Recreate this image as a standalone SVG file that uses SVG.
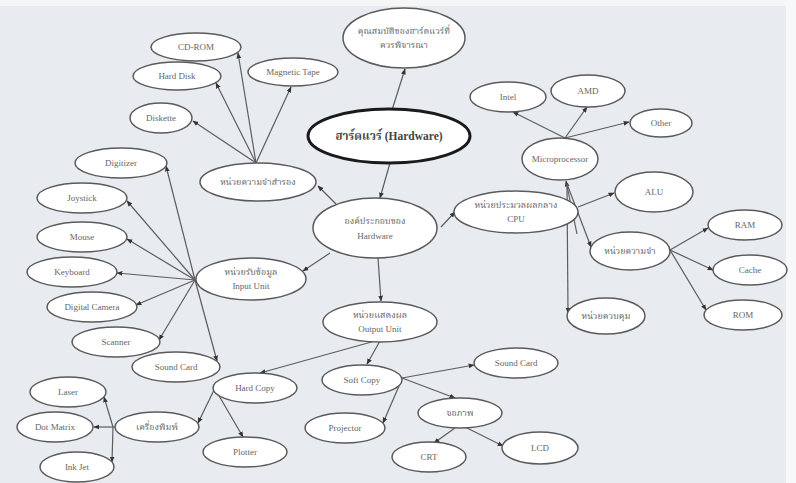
<svg xmlns="http://www.w3.org/2000/svg" width="796" height="483" viewBox="0 0 796 483">
  <defs>
    <marker id="arrow" viewBox="0 0 10 10" refX="9" refY="5" markerWidth="6" markerHeight="6" orient="auto" markerUnits="userSpaceOnUse">
      <path d="M0,1 L10,5 L0,9 Z" fill="#333"/>
    </marker>
    <style>
      .node ellipse { fill: #ffffff; stroke: #5a5a5a; stroke-width: 1.5; }
      .node text { font-family: "Liberation Serif", "Noto Serif Thai", "Noto Sans Thai", "DejaVu Serif", serif; font-size: 9px; fill: #666; text-anchor: middle; dominant-baseline: middle; }
      .main ellipse { stroke: #1a1a1a; stroke-width: 3; }
      .main text { font-size: 11.5px; font-weight: bold; fill: #444; }
      .links line { stroke: #5c5c5c; stroke-width: 1.2; marker-end: url(#arrow); }
    </style>
  </defs>

  <!-- paper -->
  <rect x="0" y="0" width="796" height="483" fill="#e8ecf0"/>
  <rect x="0" y="0" width="796" height="6" fill="#f4f6f8"/>
  <rect x="786" y="0" width="10" height="483" fill="#f7f8fa"/>

  <!-- connectors -->
  <g id="connectors" class="links">
    <line x1="392" y1="110" x2="405" y2="69"/>
    <line x1="390" y1="163" x2="380" y2="198"/>
    <line x1="336" y1="204" x2="318" y2="186"/>
    <line x1="330" y1="253" x2="303" y2="271"/>
    <line x1="441" y1="227" x2="455" y2="212"/>
    <line x1="378" y1="258" x2="381" y2="301"/>

    <!-- storage -->
    <line x1="256" y1="163" x2="238" y2="53"/>
    <line x1="256" y1="163" x2="216" y2="83"/>
    <line x1="256" y1="163" x2="291" y2="87"/>
    <line x1="256" y1="163" x2="193" y2="121"/>

    <!-- input -->
    <line x1="195" y1="280" x2="166" y2="166"/>
    <line x1="195" y1="280" x2="217" y2="361"/>
    <line x1="195" y1="280" x2="127" y2="201"/>
    <line x1="195" y1="280" x2="127" y2="239"/>
    <line x1="195" y1="280" x2="117" y2="273"/>
    <line x1="195" y1="280" x2="136" y2="305"/>
    <line x1="195" y1="280" x2="159" y2="340"/>

    <!-- cpu -->
    <line x1="577" y1="234" x2="566" y2="181"/>
    <line x1="567" y1="184" x2="591" y2="247"/>
    <line x1="567" y1="184" x2="568" y2="313"/>
    <line x1="578" y1="207" x2="614" y2="193"/>
    <line x1="565" y1="138" x2="513" y2="112"/>
    <line x1="565" y1="138" x2="587" y2="107"/>
    <line x1="565" y1="138" x2="629" y2="122"/>
    <line x1="670" y1="250" x2="708" y2="228"/>
    <line x1="670" y1="250" x2="713" y2="270"/>
    <line x1="670" y1="250" x2="706" y2="310"/>

    <!-- output -->
    <line x1="380" y1="341" x2="367" y2="364"/>
    <line x1="375" y1="341" x2="260" y2="373"/>
    <line x1="402" y1="378" x2="474" y2="365"/>
    <line x1="402" y1="378" x2="455" y2="398"/>
    <line x1="399" y1="386" x2="383" y2="423"/>
    <line x1="455" y1="428" x2="434" y2="443"/>
    <line x1="465" y1="427" x2="503" y2="446"/>
    <line x1="214" y1="390" x2="198" y2="423"/>
    <line x1="218" y1="394" x2="243" y2="437"/>
    <line x1="115" y1="427" x2="94" y2="427"/>
    <line x1="113" y1="427" x2="104" y2="397"/>
    <line x1="113" y1="427" x2="112" y2="462"/>
  </g>

  <!-- central topic -->
  <g id="hardware" class="node main">
    <ellipse cx="389" cy="136" rx="81" ry="27"/>
    <text x="389" y="137">ฮาร์ดแวร์ (Hardware)</text>
  </g>
  <g id="properties" class="node">
    <ellipse cx="404" cy="38" rx="61" ry="30"/>
    <text x="404" y="32">คุณสมบัติของฮาร์ดแวร์ที่</text>
    <text x="404" y="46">ควรพิจารณา</text>
  </g>
  <g id="components" class="node">
    <ellipse cx="375" cy="228" rx="62" ry="30"/>
    <text x="375" y="222">องค์ประกอบของ</text>
    <text x="375" y="237">Hardware</text>
  </g>

  <!-- storage branch -->
  <g id="storage" class="node">
    <ellipse cx="258" cy="182" rx="58" ry="19"/>
    <text x="258" y="183">หน่วยความจำสำรอง</text>
  </g>
  <g id="cdrom" class="node">
    <ellipse cx="196" cy="47" rx="45" ry="14"/>
    <text x="196" y="48">CD-ROM</text>
  </g>
  <g id="harddisk" class="node">
    <ellipse cx="177" cy="76" rx="44" ry="14"/>
    <text x="177" y="77">Hard Disk</text>
  </g>
  <g id="magnetictape" class="node">
    <ellipse cx="293" cy="72" rx="45" ry="14"/>
    <text x="293" y="73">Magnetic Tape</text>
  </g>
  <g id="diskette" class="node">
    <ellipse cx="161" cy="118" rx="31" ry="15"/>
    <text x="161" y="119">Diskette</text>
  </g>

  <!-- input branch -->
  <g id="input" class="node">
    <ellipse cx="251" cy="279" rx="55" ry="21"/>
    <text x="251" y="273">หน่วยรับข้อมูล</text>
    <text x="251" y="287">Input Unit</text>
  </g>
  <g id="digitizer" class="node">
    <ellipse cx="121" cy="163" rx="46" ry="15"/>
    <text x="121" y="164">Digitizer</text>
  </g>
  <g id="joystick" class="node">
    <ellipse cx="82" cy="198" rx="45" ry="15"/>
    <text x="82" y="199">Joystick</text>
  </g>
  <g id="mouse" class="node">
    <ellipse cx="82" cy="237" rx="45" ry="15"/>
    <text x="82" y="238">Mouse</text>
  </g>
  <g id="keyboard" class="node">
    <ellipse cx="72" cy="272" rx="45" ry="15"/>
    <text x="72" y="273">Keyboard</text>
  </g>
  <g id="digitalcamera" class="node">
    <ellipse cx="92" cy="307" rx="45" ry="15"/>
    <text x="92" y="308">Digital Camera</text>
  </g>
  <g id="scanner" class="node">
    <ellipse cx="116" cy="342" rx="44" ry="15"/>
    <text x="116" y="343">Scanner</text>
  </g>
  <g id="soundcard-in" class="node">
    <ellipse cx="176" cy="367" rx="44" ry="15"/>
    <text x="176" y="368">Sound Card</text>
  </g>

  <!-- cpu branch -->
  <g id="cpu" class="node">
    <ellipse cx="516" cy="212" rx="62" ry="21"/>
    <text x="516" y="206">หน่วยประมวลผลกลาง</text>
    <text x="516" y="220">CPU</text>
  </g>
  <g id="microprocessor" class="node">
    <ellipse cx="560" cy="159" rx="38" ry="21"/>
    <text x="560" y="160">Microprocessor</text>
  </g>
  <g id="intel" class="node">
    <ellipse cx="508" cy="97" rx="38" ry="15"/>
    <text x="508" y="98">Intel</text>
  </g>
  <g id="amd" class="node">
    <ellipse cx="588" cy="91" rx="37" ry="16"/>
    <text x="588" y="92">AMD</text>
  </g>
  <g id="other" class="node">
    <ellipse cx="661" cy="123" rx="31" ry="14"/>
    <text x="661" y="124">Other</text>
  </g>
  <g id="alu" class="node">
    <ellipse cx="654" cy="192" rx="39" ry="20"/>
    <text x="654" y="193">ALU</text>
  </g>
  <g id="memory" class="node">
    <ellipse cx="630" cy="251" rx="40" ry="19"/>
    <text x="630" y="252">หน่วยความจำ</text>
  </g>
  <g id="ram" class="node">
    <ellipse cx="745" cy="225" rx="37" ry="15"/>
    <text x="745" y="226">RAM</text>
  </g>
  <g id="cache" class="node">
    <ellipse cx="750" cy="270" rx="37" ry="15"/>
    <text x="750" y="271">Cache</text>
  </g>
  <g id="rom" class="node">
    <ellipse cx="743" cy="315" rx="39" ry="15"/>
    <text x="743" y="316">ROM</text>
  </g>
  <g id="control" class="node">
    <ellipse cx="606" cy="316" rx="39" ry="18"/>
    <text x="606" y="317">หน่วยควบคุม</text>
  </g>

  <!-- output branch -->
  <g id="output" class="node">
    <ellipse cx="380" cy="322" rx="57" ry="20"/>
    <text x="380" y="316">หน่วยแสดงผล</text>
    <text x="380" y="330">Output Unit</text>
  </g>
  <g id="softcopy" class="node">
    <ellipse cx="362" cy="380" rx="40" ry="15"/>
    <text x="362" y="381">Soft Copy</text>
  </g>
  <g id="soundcard-out" class="node">
    <ellipse cx="516" cy="363" rx="42" ry="15"/>
    <text x="516" y="364">Sound Card</text>
  </g>
  <g id="monitor" class="node">
    <ellipse cx="460" cy="413" rx="42" ry="15"/>
    <text x="460" y="414">จอภาพ</text>
  </g>
  <g id="projector" class="node">
    <ellipse cx="345" cy="428" rx="40" ry="15"/>
    <text x="345" y="429">Projector</text>
  </g>
  <g id="crt" class="node">
    <ellipse cx="429" cy="457" rx="37" ry="15"/>
    <text x="429" y="458">CRT</text>
  </g>
  <g id="lcd" class="node">
    <ellipse cx="540" cy="448" rx="38" ry="16"/>
    <text x="540" y="449">LCD</text>
  </g>
  <g id="hardcopy" class="node">
    <ellipse cx="255" cy="388" rx="42" ry="15"/>
    <text x="255" y="389">Hard Copy</text>
  </g>
  <g id="printer" class="node">
    <ellipse cx="157" cy="427" rx="42" ry="15"/>
    <text x="157" y="428">เครื่องพิมพ์</text>
  </g>
  <g id="plotter" class="node">
    <ellipse cx="245" cy="452" rx="42" ry="15"/>
    <text x="245" y="453">Plotter</text>
  </g>
  <g id="laser" class="node">
    <ellipse cx="68" cy="392" rx="38" ry="15"/>
    <text x="68" y="393">Laser</text>
  </g>
  <g id="dotmatrix" class="node">
    <ellipse cx="55" cy="427" rx="38" ry="15"/>
    <text x="55" y="428">Dot Matrix</text>
  </g>
  <g id="inkjet" class="node">
    <ellipse cx="77" cy="467" rx="37" ry="15"/>
    <text x="77" y="468">Ink Jet</text>
  </g>
</svg>
